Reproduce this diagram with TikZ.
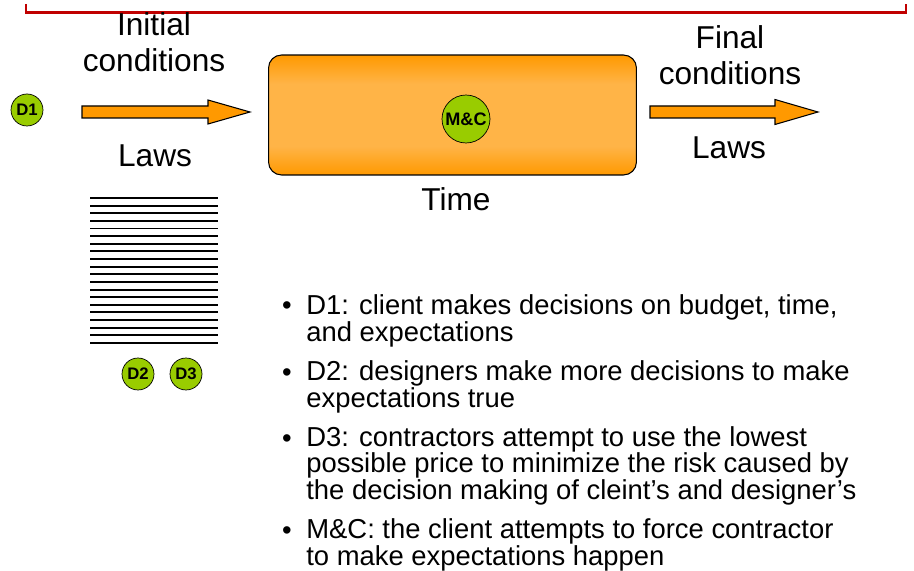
\documentclass[tikz,border=0pt]{standalone}
\usepackage{fontspec}
\setmainfont{Liberation Sans}
\definecolor{arrowOrange}{HTML}{FF9900}
\definecolor{boxLight}{HTML}{FFB447}
\definecolor{decGreen}{HTML}{99CC00}
\definecolor{rulerRed}{HTML}{C00000}
\newcommand\itemfont{\fontsize{15.6}{14.9}\selectfont\lineskiplimit-20pt\relax}
\pgfdeclareverticalshading{boxShade}{100bp}{color(0bp)=(arrowOrange); color(25bp)=(arrowOrange); color(37bp)=(boxLight); color(63bp)=(boxLight); color(75bp)=(arrowOrange); color(100bp)=(arrowOrange)}
\begin{document}
\begin{tikzpicture}[x=0.02cm,y=-0.02cm,
    dec/.style={circle,draw,fill=decGreen,inner sep=0pt,minimum size=0.64cm,font=\bfseries\fontsize{9.5}{10}\selectfont},
    big/.style={align=center,inner sep=0pt,anchor=base,font=\fontsize{18}{21}\selectfont},
    itemtxt/.style={align=left,inner sep=0pt,anchor=base west,font=\itemfont},
    dot/.style={inner sep=0pt,anchor=base,font=\itemfont},
    blockArrow/.style={draw,fill=arrowOrange,line width=0.6pt}]
            \useasboundingbox (0,0) rectangle (914,571);

            \draw[rulerRed, line width=1.7pt] (26,4) -- (26,12.5) -- (906,12.5) -- (906,4);

            \node[dec] at (27,110) (d1) {D1};

            % anchor=base is the last line
            \node[big] at (154,72) (initial) {Initial\\conditions};
            \draw[blockArrow] (82,106) -- (208,106) -- (208,100) -- (250,112) -- (208,124) -- (208,118) -- (82,118) -- cycle;
            \node[big] at (155,167) (lawsIn) {Laws};

            \node[draw, line width=0.6pt, rounded corners=0.26cm, minimum width=7.36cm, minimum height=2.4cm,
                  shading=boxShade] at (452.5,115) (box) {};
            \node[dec, minimum size=0.96cm, font=\bfseries\fontsize{10.3}{11}\selectfont] at (466,119) (mc) {M\&C};
            \node[big] at (456,211) (time) {Time};

            \node[big] at (730,85) (final) {Final\\conditions};
            \draw[blockArrow] (650,106) -- (775,106) -- (775,99.5) -- (818,112) -- (775,124.5) -- (775,118) -- (650,118) -- cycle;
            \node[big] at (729,159) (lawsOut) {Laws};

            % the laws
            \foreach \i in {0,...,19}
                \draw[line width=1.1pt] (90,198+7.63*\i) -- (218,198+7.63*\i);

            \node[dec] at (138,374) (d2) {D2};
            \node[dec] at (186,374) (d3) {D3};

            \node[dot] at (287,315) (b1) {\textbullet};
            \node[itemtxt] at (306,341) (t1) {D1: client makes decisions on budget, time,\\and expectations};
            \node[dot] at (287,381) (b2) {\textbullet};
            \node[itemtxt] at (306,407) (t2) {D2: designers make more decisions to make\\expectations true};
            \node[dot] at (287,447) (b3) {\textbullet};
            \node[itemtxt] at (306,499) (t3) {D3: contractors attempt to use the lowest\\possible price to minimize the risk caused by\\the decision making of cleint’s and designer’s};
            \node[dot] at (287,539) (b4) {\textbullet};
            \node[itemtxt] at (306,565) (t4) {M\&C: the client attempts to force contractor\\to make expectations happen};
        \end{tikzpicture}
\end{document}
